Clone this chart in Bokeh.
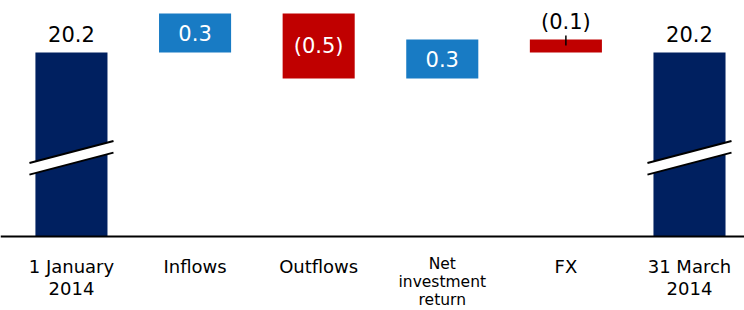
import numpy as np
from bokeh.plotting import figure
from bokeh.models import ColumnDataSource, Range1d, Span
from bokeh.core.properties import value
from bokeh.embed import file_html
from bokeh.resources import INLINE

# ---- data ----
categories = ["1 January\n2014", "Inflows", "Outflows", "Net\ninvestment\nreturn", "FX", "31 March\n2014"]
kinds = ["total", "delta", "delta", "delta", "delta", "total"]
values = [20.2, 0.3, -0.5, 0.3, -0.1, 20.2]
value_labels = ["20.2", "0.3", "(0.5)", "0.3", "(0.1)", "20.2"]

# ---- layout / style ----
axis_floor = 18.785      # value at which the (broken) axis is drawn
break_level = 19.39      # where the break marks cross the total bars
NAVY, BLUE, RED = "#002060", "#187BC4", "#C00000"
FONT = "DejaVu Sans"
BAR_W = 0.583

xs = np.arange(len(categories))
running = 0.0
bottoms, tops, colors = [], [], []
for k, v in zip(kinds, values):
    if k == "total":
        bottoms.append(axis_floor)
        tops.append(v)
        colors.append(NAVY)
        running = v
    else:
        new = running + v
        bottoms.append(min(running, new))
        tops.append(max(running, new))
        colors.append(BLUE if v > 0 else RED)
        running = new

p = figure(width=744, height=310, output_backend="svg", toolbar_location=None,
           x_range=Range1d(-0.574, 5.445), y_range=Range1d(18.215, 20.6),
           min_border=0, outline_line_color=None, background_fill_color="white",
           border_fill_color="white")
p.xaxis.visible = False
p.yaxis.visible = False
p.grid.visible = False

bars = ColumnDataSource(dict(x=xs, bottom=bottoms, top=tops, color=colors))
p.vbar(x="x", width=BAR_W, bottom="bottom", top="top", fill_color="color",
       line_color=None, source=bars)

# break marks on total bars
slope = 0.249
half_x = 0.34
half_gap = 0.045
for i, k in enumerate(kinds):
    if k != "total":
        continue
    xl, xr = xs[i] - half_x, xs[i] + half_x
    yl, yr = break_level - slope * half_x, break_level + slope * half_x
    p.patch([xl, xr, xr, xl], [yl + half_gap, yr + half_gap, yr - half_gap, yl - half_gap],
            fill_color="white", line_color=None)
    p.line([xl, xr], [yl + half_gap, yr + half_gap], line_color="black", line_width=2)
    p.line([xl, xr], [yl - half_gap, yr - half_gap], line_color="black", line_width=2)

# axis line
p.add_layout(Span(location=axis_floor, dimension="width", line_color="black", line_width=2))

# value labels
in_x, in_y, in_t = [], [], []
tot_x, tot_y, tot_t = [], [], []
out_x, out_y, out_t = [], [], []
for i, (k, v) in enumerate(zip(kinds, values)):
    if k == "delta" and abs(v) >= 0.2:
        in_x.append(xs[i]); in_y.append((bottoms[i] + tops[i]) / 2); in_t.append(value_labels[i])
    elif k == "total":
        tot_x.append(xs[i]); tot_y.append(tops[i]); tot_t.append(value_labels[i])
    else:
        out_x.append(xs[i]); out_y.append(tops[i]); out_t.append(value_labels[i])

p.text(x=in_x, y=in_y, text=in_t, text_align="center", text_baseline="middle",
       text_color="white", text_font=value(FONT), text_font_size="21px")
p.text(x=tot_x, y=tot_y, text=tot_t, text_align="center", text_baseline="bottom",
       text_color="black", text_font=value(FONT), text_font_size="21px", y_offset=-10)
p.text(x=out_x, y=out_y, text=out_t, text_align="center", text_baseline="bottom",
       text_color="black", text_font=value(FONT), text_font_size="21px", y_offset=-5)
for lx, ly in zip(out_x, out_y):
    p.segment(x0=[lx], y0=[ly - 0.046], x1=[lx], y1=[ly + 0.03], line_color="black", line_width=1.5)

# category labels
big = [i for i, c in enumerate(categories) if c.count("\n") < 2]
small = [i for i, c in enumerate(categories) if c.count("\n") >= 2]
p.text(x=[xs[i] for i in big], y=[axis_floor] * len(big), text=[categories[i] for i in big],
       text_align="center", text_baseline="top", text_color="black",
       text_font=value(FONT), text_font_size="18px", text_line_height=1.05, y_offset=20)
p.text(x=[xs[i] for i in small], y=[axis_floor] * len(small), text=[categories[i] for i in small],
       text_align="center", text_baseline="top", text_color="black",
       text_font=value(FONT), text_font_size="15.5px", text_line_height=1.0, y_offset=19)

open("out.html", "w").write(file_html(p, INLINE))
